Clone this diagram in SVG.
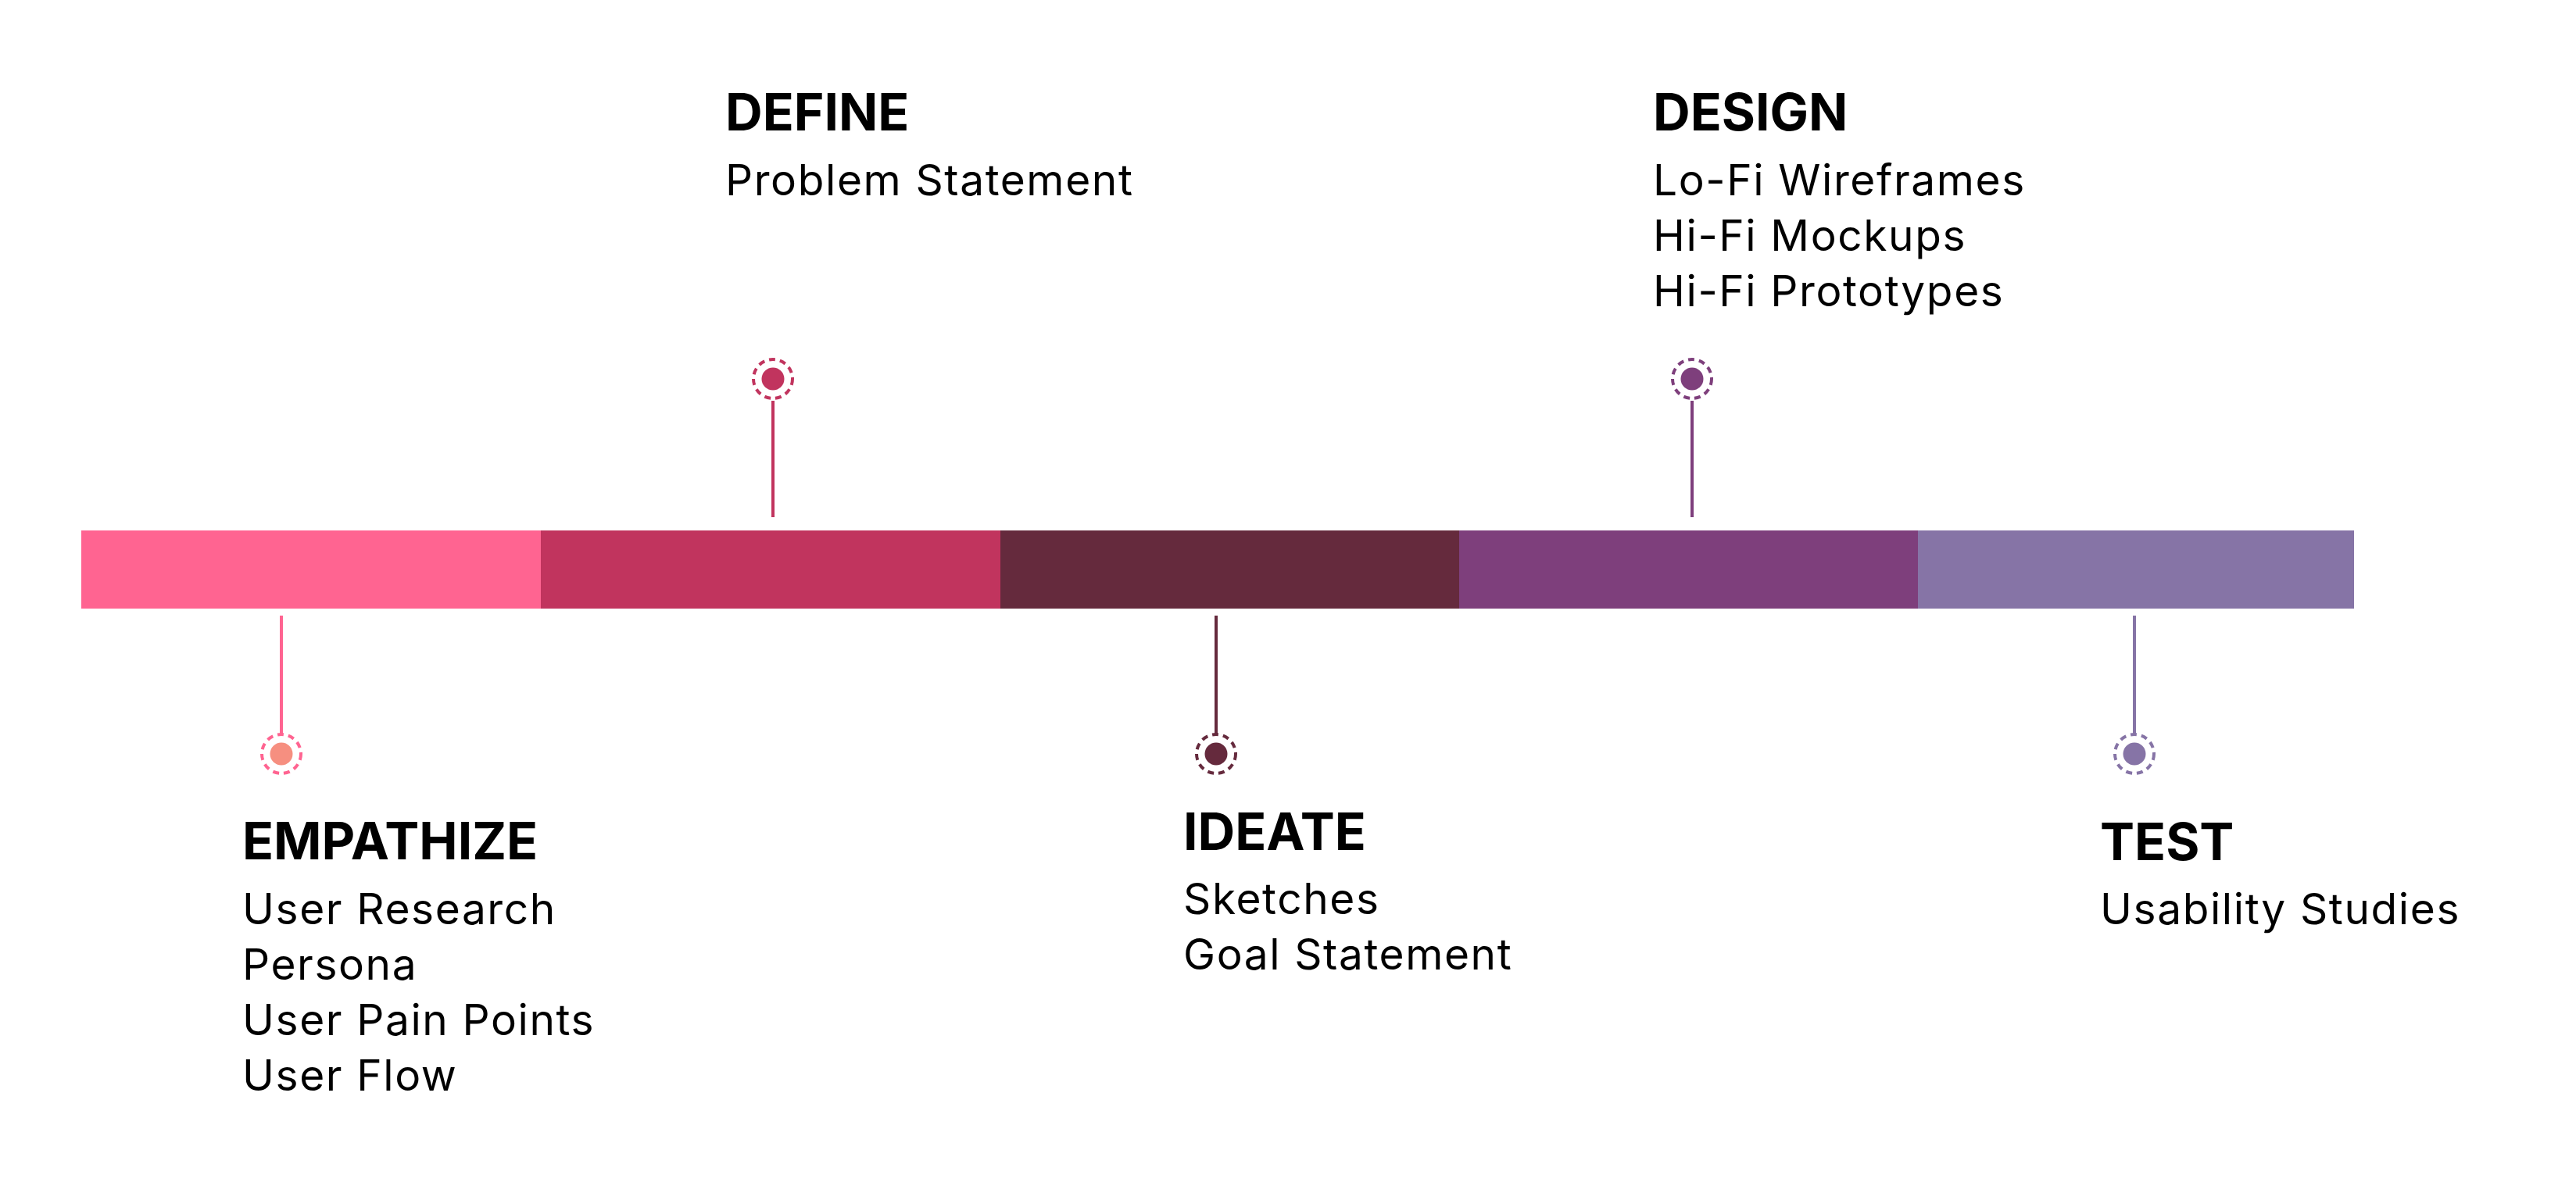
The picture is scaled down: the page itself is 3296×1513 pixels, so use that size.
<svg xmlns="http://www.w3.org/2000/svg" width="3296" height="1513" viewBox="0 0 3296 1513">
  <style>
    .head { font-family: Inter, "Liberation Sans", sans-serif; font-weight: 700; font-size: 66px; fill: #000; }
    .item { font-family: Inter, "Liberation Sans", sans-serif; font-weight: 400; font-size: 55px; letter-spacing: 1.6px; fill: #000; }
    .stem { stroke-width: 4; fill: none; }
    .ring { fill: none; stroke-width: 4; stroke-dasharray: 8 6; }
  </style>
  <rect width="3296" height="1513" fill="#ffffff"/>

  <!-- timeline bar -->
  <g id="bar">
    <rect x="104" y="679" width="589" height="100" fill="#FF6491"/>
    <rect x="692" y="679" width="589" height="100" fill="#C1345E"/>
    <rect x="1280" y="679" width="588" height="100" fill="#652A3D"/>
    <rect x="1867" y="679" width="588" height="100" fill="#7E3F7C"/>
    <rect x="2454" y="679" width="558" height="100" fill="#8674A6"/>
  </g>

  <!-- stems linking bar to markers -->
  <g id="connectors">
    <line class="stem" x1="360" y1="788" x2="360" y2="940" stroke="#FF6491"/>
    <line class="stem" x1="989" y1="513" x2="989" y2="662" stroke="#C1345E"/>
    <line class="stem" x1="1556" y1="788" x2="1556" y2="940" stroke="#652A3D"/>
    <line class="stem" x1="2165" y1="513" x2="2165" y2="662" stroke="#7E3F7C"/>
    <line class="stem" x1="2731" y1="788" x2="2731" y2="940" stroke="#8674A6"/>
  </g>

  <g id="empathize">
    <circle class="ring" cx="360" cy="965" r="25" stroke="#FF6491"/>
    <circle cx="360" cy="965" r="14.5" fill="#F68F80"/>
    <text class="head" x="310" y="1100">EMPATHIZE</text>
    <text class="item" x="310" y="1183">User Research</text>
    <text class="item" x="310" y="1254">Persona</text>
    <text class="item" x="310" y="1325">User Pain Points</text>
    <text class="item" x="310" y="1396">User Flow</text>
  </g>

  <g id="define">
    <circle class="ring" cx="989" cy="485" r="25" stroke="#C1345E"/>
    <circle cx="989" cy="485" r="14.5" fill="#C1345E"/>
    <text class="head" x="928" y="167">DEFINE</text>
    <text class="item" x="928" y="250">Problem Statement</text>
  </g>

  <g id="ideate">
    <circle class="ring" cx="1556" cy="965" r="25" stroke="#652A3D"/>
    <circle cx="1556" cy="965" r="14.5" fill="#652A3D"/>
    <text class="head" x="1514" y="1088">IDEATE</text>
    <text class="item" x="1514" y="1170">Sketches</text>
    <text class="item" x="1514" y="1241">Goal Statement</text>
  </g>

  <g id="design">
    <circle class="ring" cx="2165" cy="485" r="25" stroke="#7E3F7C"/>
    <circle cx="2165" cy="485" r="14.5" fill="#7E3F7C"/>
    <text class="head" x="2115" y="167">DESIGN</text>
    <text class="item" x="2115" y="250">Lo-Fi Wireframes</text>
    <text class="item" x="2115" y="321">Hi-Fi Mockups</text>
    <text class="item" x="2115" y="392">Hi-Fi Prototypes</text>
  </g>

  <g id="test">
    <circle class="ring" cx="2731" cy="965" r="25" stroke="#8674A6"/>
    <circle cx="2731" cy="965" r="14.5" fill="#8674A6"/>
    <text class="head" x="2687" y="1101">TEST</text>
    <text class="item" x="2687" y="1183">Usability Studies</text>
  </g>
</svg>
